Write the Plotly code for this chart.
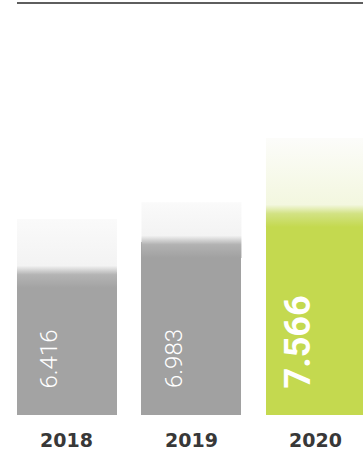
import plotly.graph_objects as go

# Annual values (millions) shown as bars
years = ["2018", "2019", "2020"]
values = [6.416, 6.983, 7.566]
value_labels = ["6.416", "6.983", "7.566"]

# Styling
bar_colors = ["#a3a3a3", "#a1a1a1", "#c4d94f"]
edge_colors = ["#b4b4b4", "#b2b2b2", "#d2e283"]
haze_colors = ["#f3f3f3", "#f3f3f3", "#f3f7df"]
haze_top_colors = ["#fafafa", "#fafafa", "#fcfcfa"]
haze_heights = [1.0, 0.75, 1.38]   # faint wash above each bar (axis units)
label_weights = [300, 300, 700]
label_sizes = [24, 24, 36]

BAR_W = 0.803
Y_RANGE = [3.718, 11.55]
X_RANGE = [-0.538, 2.378]
SOFT = 0.3      # soft watercolor edge below the bar top

fig = go.Figure()

xs = list(range(len(years)))

# Solid bars
fig.add_trace(go.Bar(
    x=xs, y=values, width=BAR_W,
    marker=dict(color=bar_colors, line=dict(width=0)),
    hoverinfo="skip", showlegend=False,
))

# Soft faded wash on top of each bar
for i, v in enumerate(values):
    x0, x1 = xs[i] - BAR_W / 2, xs[i] + BAR_W / 2
    lo, hi = v - SOFT, v + haze_heights[i]
    span = hi - lo
    fig.add_trace(go.Scatter(
        x=[x0, x1, x1, x0, x0], y=[lo, lo, hi, hi, lo],
        mode="lines", line=dict(width=0),
        fill="toself",
        fillgradient=dict(
            type="vertical", start=lo, stop=hi,
            colorscale=[[0, bar_colors[i]],
                        [(SOFT - 0.05) / span, edge_colors[i]],
                        [(SOFT + 0.12) / span, haze_colors[i]],
                        [1, haze_top_colors[i]]],
        ),
        hoverinfo="skip", showlegend=False,
    ))

annotations = []
for i, v in enumerate(values):
    # rotated value inside the bar
    annotations.append(dict(
        x=xs[i], y=Y_RANGE[0], xref="x", yref="y",
        text=value_labels[i], showarrow=False, textangle=-90,
        xanchor="center", yanchor="bottom", xshift=-18, yshift=25,
        font=dict(family="Roboto", size=label_sizes[i],
                  weight=label_weights[i], color="white"),
    ))
    # year under the bar
    annotations.append(dict(
        x=xs[i], y=0, xref="x", yref="paper",
        text=years[i], showarrow=False,
        xanchor="center", yanchor="middle", yshift=-25,
        font=dict(family="DejaVu Sans", size=19, weight=700, color="#383838"),
    ))

fig.update_layout(
    width=363, height=456,
    margin=dict(l=0, r=0, t=0, b=41),
    paper_bgcolor="white", plot_bgcolor="white",
    xaxis=dict(range=X_RANGE, visible=False, fixedrange=True),
    yaxis=dict(range=Y_RANGE, visible=False, fixedrange=True),
    bargap=0,
    annotations=annotations,
    shapes=[dict(
        type="line", xref="x", yref="paper",
        x0=xs[0] - BAR_W / 2, x1=X_RANGE[1], y0=1 - 3 / 415, y1=1 - 3 / 415,
        line=dict(color="#5e5e5e", width=2),
    )],
)

fig.write_html("out.html")
